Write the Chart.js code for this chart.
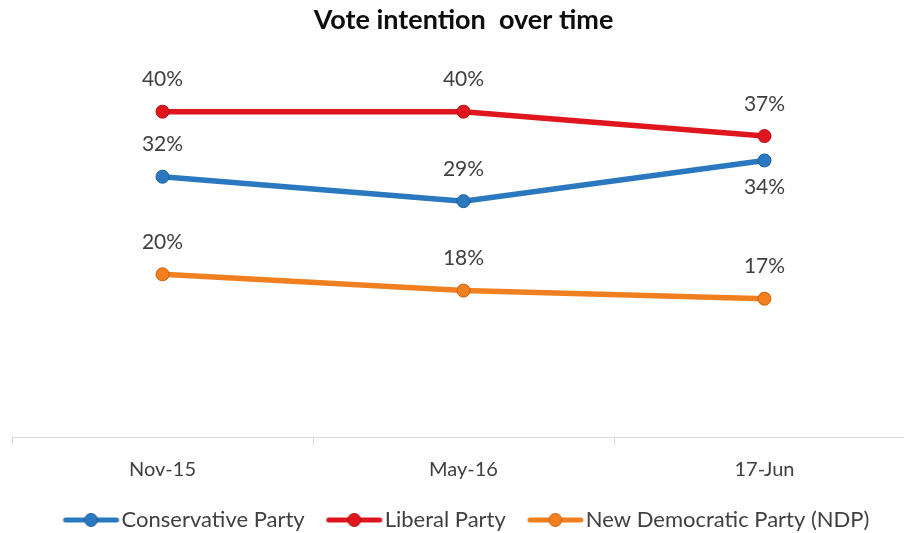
<!DOCTYPE html>
<html><head><meta charset="utf-8">
<script src="https://cdn.jsdelivr.net/npm/chart.js@4/dist/chart.umd.min.js"></script>
<style>
html,body{margin:0;padding:0;background:#fff;overflow:hidden;}
#wrap{position:relative;width:926px;height:541px;}
</style></head><body>
<div id="wrap"><canvas id="c" width="926" height="541"></canvas></div>
<script>
const categories = ['Nov-15', 'May-16', '17-Jun'];
const seriesNames = ['Conservative Party', 'Liberal Party', 'New Democratic Party (NDP)'];
const conservative = [32, 29, 34];
const liberal = [40, 40, 37];
const ndp = [20, 18, 17];
const yMin = 0;
const yMax = 45;

const FONT = "Lato, 'Open Sans', 'DejaVu Sans', sans-serif";
const colors = ['#2a78bf', '#e0161e', '#f0801f'];
const borders = ['#1d5f9c', '#b50f15', '#c9620f'];

const LEG_BOX = 53;
function makeIcon(color, border) {
  const c = document.createElement('canvas');
  c.width = LEG_BOX + 20; c.height = 16;
  const x = c.getContext('2d');
  const x0 = c.width - 58;
  x.strokeStyle = color; x.lineWidth = 5; x.lineCap = 'round';
  x.beginPath(); x.moveTo(x0 + 3, 8); x.lineTo(x0 + 54, 8); x.stroke();
  x.beginPath(); x.arc(x0 + 28.5, 8, 6.5, 0, Math.PI * 2);
  x.fillStyle = color; x.fill();
  x.lineWidth = 1; x.strokeStyle = border; x.stroke();
  return c;
}
const icons = colors.map((c, i) => makeIcon(c, borders[i]));

const valueLabels = {
  id: 'valueLabels',
  afterDatasetsDraw(chart) {
    const ctx = chart.ctx;
    chart.data.datasets.forEach((ds, di) => {
      const meta = chart.getDatasetMeta(di);
      meta.data.forEach((pt, i) => {
        const below = ds.labelBelow && ds.labelBelow[i];
        ctx.save();
        ctx.font = "21px " + FONT;
        ctx.fillStyle = '#404040';
        ctx.textAlign = 'center';
        ctx.textBaseline = 'middle';
        ctx.fillText(ds.data[i] + '%', pt.x, below ? pt.y + 27 : pt.y - 32);
        ctx.restore();
      });
    });
  }
};

const seriesData = [conservative, liberal, ndp];
const below = [[false, false, true], [false, false, false], [false, false, false]];

new Chart(document.getElementById('c'), {
  type: 'line',
  data: {
    labels: categories,
    datasets: seriesData.map((d, i) => ({
      label: seriesNames[i],
      data: d,
      borderColor: colors[i],
      backgroundColor: colors[i],
      borderWidth: 5.5,
      pointRadius: 6.5,
      pointHoverRadius: 6.5,
      pointBackgroundColor: colors[i],
      pointBorderColor: borders[i],
      pointBorderWidth: 1,
      tension: 0,
      fill: false,
      labelBelow: below[i]
    }))
  },
  options: {
    responsive: false,
    animation: false,
    devicePixelRatio: 1,
    layout: { padding: { left: 12, right: 11, top: 0, bottom: 0 } },
    scales: {
      x: {
        type: 'category',
        offset: true,
        afterFit(scale) { scale.height = 56; },
        grid: { display: true, drawOnChartArea: false, drawTicks: true, tickLength: 8, color: '#d9d9d9', offset: true },
        border: { display: true, color: '#d9d9d9', width: 1 },
        ticks: { font: { family: FONT, size: 20 }, color: '#404040', padding: 13, maxRotation: 0 }
      },
      y: { display: false, min: yMin, max: yMax }
    },
    plugins: {
      title: {
        display: true,
        text: 'Vote intention  over time',
        color: '#0d0d0d',
        font: { family: FONT, size: 27, weight: 'bold' },
        padding: { top: 4, bottom: 34.6 }
      },
      legend: {
        position: 'bottom',
        labels: {
          usePointStyle: true,
          pointStyleWidth: LEG_BOX,
          padding: 16,
          color: '#404040',
          font: { family: FONT, size: 22 },
          generateLabels(chart) {
            const items = Chart.defaults.plugins.legend.labels.generateLabels(chart);
            items.forEach(it => { it.pointStyle = icons[it.datasetIndex]; });
            return items;
          }
        }
      },
      tooltip: { enabled: false }
    }
  },
  plugins: [valueLabels]
});
</script>
</body></html>
